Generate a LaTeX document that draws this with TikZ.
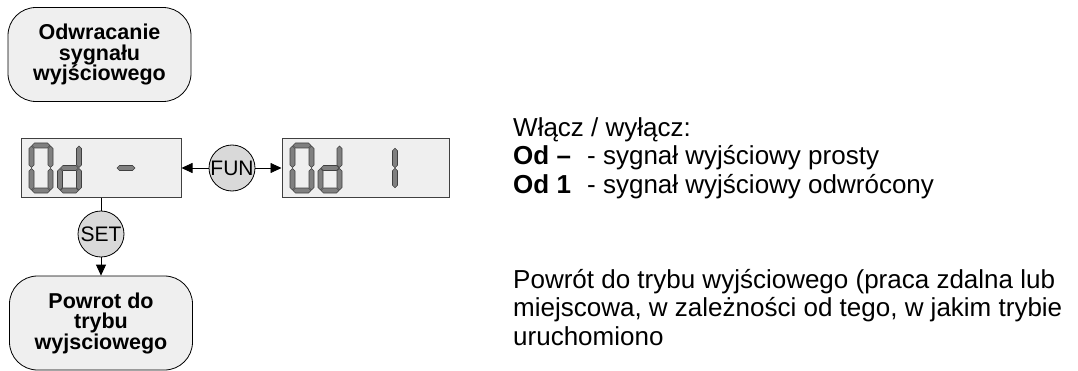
\documentclass[tikz,border=0pt]{standalone}
\usepackage{fontspec}
\setmainfont{Liberation Sans}
\usepackage{xcolor}
\usepackage{tikz}
\usetikzlibrary{arrows.meta}
\definecolor{boxbg}{RGB}{239,239,239}
\definecolor{btnbg}{RGB}{217,217,217}
\definecolor{lcdbg}{RGB}{239,239,239}
\definecolor{segfill}{RGB}{128,128,128}
\definecolor{segline}{RGB}{64,64,64}

\tikzset{
  stepbox/.style={draw, fill=boxbg, rounded corners=28pt, line width=0.8pt,
    minimum width=183pt, minimum height=94pt, align=center,
    font=\fontsize{21.5}{20.5}\selectfont\bfseries},
  lcd/.style={draw=segline, fill=lcdbg, line width=1pt, minimum width=160pt, minimum height=58pt},
  btn/.style={circle, draw, fill=btnbg, line width=0.8pt, minimum size=46pt,
    inner sep=0pt, font=\fontsize{21}{21}\selectfont},
  arr/.style={-{Triangle[length=11pt,width=10pt]}, line width=0.8pt},
  seg/.style={fill=segfill, draw=segline, line width=0.6pt},
  note/.style={anchor=base west, align=left, inner sep=0pt, font=\fontsize{26}{28.5}\selectfont}
}

% segments: centre x, centre y, length
\newcommand{\hseg}[3]{\filldraw[seg] (#1-#3/2,#2) -- (#1-#3/2+2.5,#2+2.5) -- (#1+#3/2-2.5,#2+2.5)
  -- (#1+#3/2,#2) -- (#1+#3/2-2.5,#2-2.5) -- (#1-#3/2+2.5,#2-2.5) -- cycle;}
\newcommand{\vseg}[3]{\filldraw[seg] (#1,#2-#3/2) -- (#1+2.5,#2-#3/2+2.5) -- (#1+2.5,#2+#3/2-2.5)
  -- (#1,#2+#3/2) -- (#1-2.5,#2+#3/2-2.5) -- (#1-2.5,#2-#3/2+2.5) -- cycle;}
\newcommand{\lcdzero}[1]{%
  \hseg{#1+12}{224.5}{18}
  \hseg{#1+12}{179.5}{18}
  \foreach \cx in {#1+2.5,#1+21.5}{\vseg{\cx}{213.25}{21.5}\vseg{\cx}{190.75}{21.5}}}
\newcommand{\lcdd}[1]{%
  \hseg{#1+12}{202}{18}
  \hseg{#1+12}{179.5}{18}
  \vseg{#1+21.5}{213.25}{21.5}
  \vseg{#1+21.5}{190.75}{21.5}
  \vseg{#1+2.5}{190.75}{21.5}}

\begin{document}
\begin{tikzpicture}[x=1pt, y=1pt]
\useasboundingbox (0,0) rectangle (1078,370);

\node[stepbox] (invert) at (99.5,315.5) {Odwracanie\\sygnału\\wyjściowego};
\node[lcd] (lcdminus) at (101,202) {};
\node[btn] (fun) at (232,202) {\makebox[30pt]{FUN}};
\node[lcd, minimum width=167pt] (lcdone) at (365.5,202) {};
\node[btn] (set) at (101,136) {\makebox[30pt]{SET}};
\node[stepbox] (back) at (101,47) {Powrot do\\trybu\\wyjsciowego};

% display digits
\lcdzero{29}
\lcdd{57.5}
\hseg{126}{202}{18}
\lcdzero{290}
\lcdd{318}
\vseg{395}{212}{19.5}
\vseg{395}{192}{19.5}

\draw[arr] (fun) -- (lcdminus);
\draw[arr] (fun) -- (lcdone);
\draw[line width=0.8pt] (lcdminus) -- (set);
\draw[arr] (set) -- (back);

% base of a multi-line node is its last line
\node[note] (onoff) at (513,177) {Włącz / wyłącz:\\
  \makebox[74pt][l]{\bfseries Od –}- sygnał wyjściowy prosty\\
  \makebox[74pt][l]{\bfseries Od 1}- sygnał wyjściowy odwrócony};
\node[note] (returninfo) at (513,25) {Powrót do trybu wyjściowego (praca zdalna lub\\
  miejscowa, w zależności od tego, w jakim trybie\\
  uruchomiono};

\end{tikzpicture}
\end{document}
